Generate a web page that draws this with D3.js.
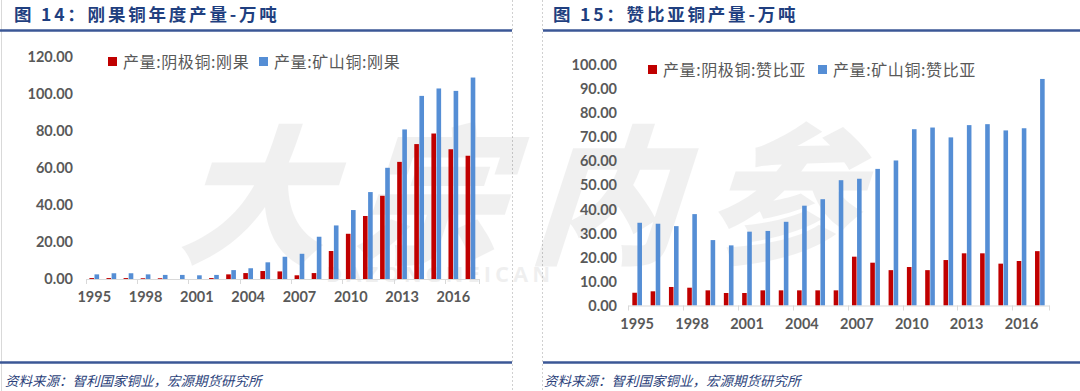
<!DOCTYPE html>
<html lang="zh">
<head>
<meta charset="utf-8">
<title>刚果 / 赞比亚铜产量</title>
<script src="https://cdn.jsdelivr.net/npm/d3@7"></script>
<style>
  body { margin: 0; background: #fff; }
  svg { display: block; }
</style>
</head>
<body>
<div id="container"></div>
<script>
  // categories
  const years = ["1995","1996","1997","1998","1999","2000","2001","2002","2003","2004","2005",
                 "2006","2007","2008","2009","2010","2011","2012","2013","2014","2015","2016","2017"];

  // 刚果 (万吨)
  const congoCathode = [0.5,0.5,0.5,0.4,0.4,0,0,0.5,2.5,3.2,4.3,4.1,2,3.2,15.1,24.4,34,44.9,63.2,72.8,78.5,70,66.5];
  const congoMine    = [2.5,3.1,3.1,2.5,2.2,2.2,2,2.2,4.8,5.8,9,12,13.6,22.8,28.9,37.2,46.9,60,80.7,98.8,102.8,101.5,108.7];

  // 赞比亚 (万吨)
  const zambiaCathode = [5.3,5.9,7.7,7.4,6.3,5.2,5.2,6.3,6.3,6.3,6.3,6.3,20.3,17.8,14.7,16,14.7,18.9,21.7,21.7,17.4,18.5,22.6];
  const zambiaMine    = [34.4,34,33,38,27.2,25,30.7,31,34.8,41.5,44.2,52.1,52.7,56.8,60.3,73.3,74,69.9,75,75.4,72.8,73.7,94.2];

  const congoTicks  = [0,20,40,60,80,100,120];
  const zambiaTicks = [0,10,20,30,40,50,60,70,80,90,100];

  const RED = "#C00000", BLUE = "#558ED5";
  const W = 1080, H = 391;

  const svg = d3.select("#container").append("svg")
    .attr("width", W).attr("height", H);

  // frame lines
  svg.append("line").attr("x1", 1.5).attr("x2", 1.5).attr("y1", 0).attr("y2", H)
    .attr("stroke", "#d9d9d9");
  [512, 542].forEach(x => {
    svg.append("line").attr("x1", x + 0.5).attr("x2", x + 0.5).attr("y1", 0).attr("y2", H)
      .attr("stroke", "#d0d0d0").attr("stroke-dasharray", "2,2");
  });
  [[0, 512], [543, W]].forEach(([a, b]) => {
    svg.append("line").attr("x1", a).attr("x2", b).attr("y1", 30.5).attr("y2", 30.5)
      .attr("stroke", "#3B5796").attr("stroke-width", 2.5);
    svg.append("line").attr("x1", a).attr("x2", b).attr("y1", 362.5).attr("y2", 362.5)
      .attr("stroke", "#3B5796").attr("stroke-width", 2.5);
  });

  // watermark
  const wm = svg.append("g").attr("pointer-events", "none");
  wm.append("text")
    .attr("transform", "translate(175,252) skewX(-18)")
    .style("font", "900 150px 'Noto Sans CJK SC'")
    .attr("letter-spacing", 26)
    .attr("fill", "#000").attr("opacity", 0.055)
    .text("大宗内参");
  wm.append("text")
    .attr("x", 326).attr("y", 282)
    .style("font", "bold 22px 'Open Sans', sans-serif")
    .attr("letter-spacing", 4)
    .attr("fill", "#000").attr("opacity", 0.06)
    .text("DAZONGNEICAN");

  function drawPanel(o) {
    const g = svg.append("g");

    // title
    g.append("text").attr("x", o.titleX).attr("y", 21)
      .style("font", "bold 17.5px 'Noto Sans CJK SC'")
      .attr("letter-spacing", 2.8)
      .attr("fill", "#1F3F80")
      .text(o.title);

    // source
    g.append("text").attr("x", o.titleX - 9).attr("y", 386)
      .style("font", "italic 13.5px 'Noto Sans CJK SC'")
      .attr("fill", "#2B3F7A")
      .text("资料来源：智利国家铜业，宏源期货研究所");

    const x = d3.scaleBand().domain(years).range([o.x0, o.x1]);
    const y = d3.scaleLinear().domain([0, o.max]).range([o.y0, o.yTop]);

    // y labels
    g.selectAll(".yl").data(o.ticks).enter().append("text")
      .attr("x", o.yLabelX).attr("y", d => y(d))
      .attr("dy", "0.36em")
      .attr("text-anchor", "end")
      .style("font", "bold 14.5px Lato, sans-serif")
      .attr("fill", "#595959")
      .text(d => d.toFixed(2));

    // bars
    const bw = x.bandwidth() * o.barFrac;
    const mid = d => x(d) + x.bandwidth() / 2;
    g.selectAll(".r").data(years).enter().append("rect")
      .attr("x", d => mid(d) - bw - 0.25)
      .attr("width", bw)
      .attr("y", (d, i) => y(o.red[i]))
      .attr("height", (d, i) => o.y0 - y(o.red[i]))
      .attr("fill", RED);
    g.selectAll(".b").data(years).enter().append("rect")
      .attr("x", d => mid(d) + 0.25)
      .attr("width", bw)
      .attr("y", (d, i) => y(o.blue[i]))
      .attr("height", (d, i) => o.y0 - y(o.blue[i]))
      .attr("fill", BLUE);

    // x axis
    const ax = g.append("g").attr("transform", `translate(0,${o.y0})`)
      .call(d3.axisBottom(x).tickValues(years.filter((d, i) => i % 3 === 0)).tickSize(0).tickPadding(13));
    ax.select(".domain").attr("stroke", "#d9d9d9");
    ax.selectAll("text").style("font", "bold 14.5px Lato, sans-serif").attr("fill", "#595959");
    // tick marks at group boundaries
    const bounds = years.filter((d, i) => i % 3 === 0).map(d => x(d)).concat([o.x1]);
    g.selectAll(".tk").data(bounds).enter().append("line")
      .attr("x1", d => Math.round(d) + 0.5).attr("x2", d => Math.round(d) + 0.5)
      .attr("y1", o.y0).attr("y2", o.y0 + 5)
      .attr("stroke", "#d9d9d9");

    // legend
    const lg = g.append("g");
    o.legend.forEach((l, i) => {
      lg.append("rect").attr("x", l.x).attr("y", o.legY - 5).attr("width", 9).attr("height", 9)
        .attr("fill", i === 0 ? RED : BLUE);
      lg.append("text").attr("x", l.x + 15).attr("y", o.legY).attr("dy", "0.36em")
        .style("font", "16px 'Noto Sans CJK SC'")
        .attr("letter-spacing", 0.6)
        .attr("fill", "#595959")
        .text(l.label);
    });
  }

  drawPanel({
    title: "图 14：刚果铜年度产量-万吨", titleX: 14,
    x0: 85.7, x1: 479, y0: 279, yTop: 56.6, max: 120, ticks: congoTicks,
    yLabelX: 73, barFrac: 0.27,
    red: congoCathode, blue: congoMine,
    legY: 62,
    legend: [{x: 108, label: "产量:阴极铜:刚果"}, {x: 259, label: "产量:矿山铜:刚果"}]
  });

  drawPanel({
    title: "图 15：赞比亚铜产量-万吨", titleX: 553,
    x0: 628, x1: 1049, y0: 305.5, yTop: 65, max: 100, ticks: zambiaTicks,
    yLabelX: 617, barFrac: 0.25,
    red: zambiaCathode, blue: zambiaMine,
    legY: 70,
    legend: [{x: 648, label: "产量:阴极铜:赞比亚"}, {x: 818, label: "产量:矿山铜:赞比亚"}]
  });
</script>
</body>
</html>
